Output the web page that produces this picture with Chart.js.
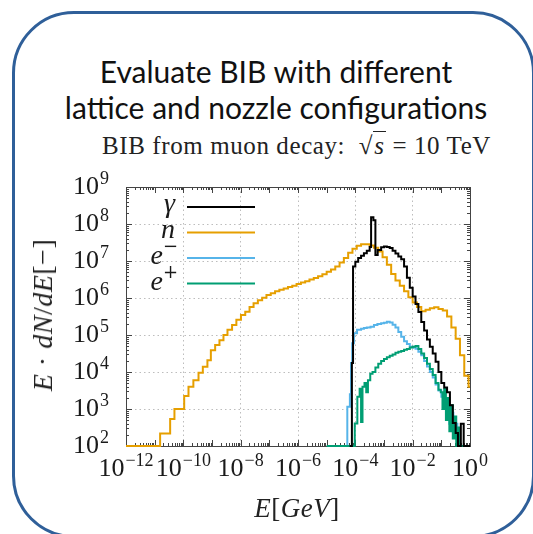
<!DOCTYPE html>
<html>
<head>
<meta charset="utf-8">
<script src="https://cdn.jsdelivr.net/npm/chart.js@4.4.1/dist/chart.umd.min.js"></script>
<style>
  body { margin: 0; width: 533px; height: 534px; overflow: hidden; background: #fff; position: relative; }
  .box { position: absolute; left: 12px; top: 11px; width: 523px; height: 527px; box-sizing: border-box;
         border: 3.5px solid #2f5f99; border-radius: 62px; }
  .title { position: absolute; left: 0; width: 552px; top: 53px; text-align: center;
           font: 30px/36px Lato, "Open Sans", sans-serif; color: #111; }
  .sub { position: absolute; left: 0; width: 593px; top: 133px; text-align: center; letter-spacing: 0.6px;
         font: 25px/25px "Liberation Serif", serif; color: #222; white-space: nowrap; }
  .ov { border-top: 1px solid #222; font-style: italic; padding: 0 1px; }
  canvas { position: absolute; left: 0; top: 0; }
  .ytitle { position: absolute; left: 43px; top: 315px; transform: translate(-50%, -50%) rotate(-90deg);
            font: 28px "Liberation Serif", serif; letter-spacing: 0.5px; color: #222; white-space: nowrap; }
  .xtitle { position: absolute; left: 297px; top: 493px; transform: translateX(-50%);
            font: 27px "Liberation Serif", serif; letter-spacing: 0.5px; color: #222; white-space: nowrap; }
  i { font-style: italic; }
</style>
</head>
<body>
<div class="box"></div>
<div class="title">Evaluate BIB with different<br>lattice and nozzle configurations</div>
<div class="sub">BIB from muon decay: &nbsp;√<span class="ov">s</span> = 10 TeV</div>
<canvas id="chart" width="533" height="534"></canvas>
<div class="ytitle"><i>E</i> · <i>dN</i>/<i>dE</i>[−]</div>
<div class="xtitle"><i>E</i>[<i>GeV</i>]</div>
<script>
// log10 of bin left edges (GeV) and log10 of E dN/dE
const gammaE = [-4.20, -4.12, -4.08, -4.00, -3.90, -3.80, -3.70, -3.60, -3.50, -3.45, -3.37, -3.30, -3.22, -3.10, -3.00, -2.90, -2.80, -2.70, -2.60, -2.50, -2.40, -2.30, -2.20, -2.10, -2.00, -1.90, -1.80, -1.70, -1.60, -1.50, -1.40, -1.30, -1.20, -1.10, -1.00, -0.90, -0.80, -0.70, -0.60, -0.50, -0.42, -0.32, -0.22, 0];
const gammaV = [2, 4.24, 6.85, 6.98, 7.08, 7.14, 7.21, 7.28, 7.38, 8.18, 8.10, 7.16, 7.30, 7.37, 7.39, 7.38, 7.35, 7.28, 7.20, 7.12, 7.05, 6.85, 6.55, 6.28, 6.04, 5.84, 5.62, 5.35, 5.12, 4.88, 4.68, 4.50, 4.28, 4.00, 3.70, 3.58, 3.45, 3.10, 2.62, 2.35, 2, 2.6, 2, 2];

const neutronE = [-12, -10.81, -10.46, -10.31, -9.97, -9.82, -9.65, -9.47, -9.32, -9.16, -9.04, -8.89, -8.74, -8.60, -8.46, -8.30, -8.15, -7.99, -7.84, -7.69, -7.55, -7.40, -7.25, -7.10, -6.95, -6.80, -6.65, -6.50, -6.35, -6.20, -6.05, -5.90, -5.75, -5.60, -5.45, -5.30, -5.15, -5.00, -4.85, -4.70, -4.55, -4.40, -4.25, -4.10, -3.95, -3.80, -3.65, -3.50, -3.35, -3.20, -3.05, -2.90, -2.75, -2.60, -2.45, -2.30, -2.15, -2.00, -1.85, -1.70, -1.55, -1.40, -1.25, -1.10, -0.95, -0.80, -0.65, -0.50, -0.35, -0.20, -0.05, 0];
const neutronV = [2, 2.34, 2.73, 3.0, 3.35, 3.60, 3.78, 3.98, 4.14, 4.32, 4.59, 4.73, 4.86, 5.0, 5.14, 5.27, 5.41, 5.54, 5.63, 5.76, 5.86, 5.94, 6.01, 6.08, 6.13, 6.18, 6.22, 6.26, 6.30, 6.33, 6.38, 6.42, 6.45, 6.50, 6.54, 6.59, 6.64, 6.71, 6.77, 6.85, 6.96, 7.08, 7.22, 7.33, 7.41, 7.45, 7.45, 7.42, 7.36, 7.26, 7.10, 6.90, 6.65, 6.47, 6.33, 6.18, 6.02, 5.88, 5.76, 5.64, 5.68, 5.72, 5.75, 5.70, 5.66, 5.50, 5.20, 4.90, 4.45, 3.90, 3.60, 3.60];

const electronE = [-4.35, -4.28, -4.19, -4.15, -4.11, -4.05, -3.94, -3.80, -3.70, -3.60, -3.47, -3.35, -3.23, -3.10, -3.00, -2.90, -2.80, -2.70, -2.60, -2.50, -2.40, -2.30, -2.20, -2.10, -2.00, -1.90, -1.80, -1.70, -1.60, -1.50, -1.40, -1.30, -1.20, -1.10, -1.00, -0.90, -0.80, -0.72, -0.65, -0.58, -0.50, -0.44, 0];
const electronV = [2, 3.06, 3.40, 4.24, 4.78, 5.05, 5.14, 5.17, 5.19, 5.20, 5.22, 5.27, 5.30, 5.32, 5.33, 5.36, 5.34, 5.28, 5.20, 5.08, 4.95, 4.83, 4.76, 4.68, 4.66, 4.63, 4.55, 4.45, 4.30, 4.15, 4.00, 3.85, 3.66, 3.50, 3.33, 3.10, 2.85, 2.60, 2.90, 2.40, 2.60, 2, 2];

const positronE = [-5.00, -4.02, -3.93, -3.85, -3.80, -3.75, -3.68, -3.62, -3.56, -3.48, -3.40, -3.30, -3.20, -3.10, -3.00, -2.90, -2.80, -2.70, -2.60, -2.50, -2.40, -2.30, -2.20, -2.10, -2.00, -1.90, -1.80, -1.70, -1.60, -1.50, -1.40, -1.30, -1.20, -1.10, -1.02, -0.96, -0.90, -0.84, -0.78, -0.72, -0.66, -0.60, -0.55, -0.48, -0.42, -0.36, 0];
const positronV = [2, 2.61, 3.33, 3.55, 2.65, 3.60, 3.70, 3.45, 3.78, 3.95, 4.00, 4.12, 4.22, 4.30, 4.35, 4.40, 4.44, 4.47, 4.52, 4.55, 4.57, 4.60, 4.62, 4.66, 4.68, 4.70, 4.62, 4.50, 4.38, 4.22, 4.08, 3.92, 3.70, 3.52, 3.45, 3.00, 3.55, 2.70, 3.30, 2.40, 3.10, 2.20, 2.80, 2, 2.50, 2, 2];

const xTickExp = [-12, -10, -8, -6, -4, -2, 0];
const yTickExp = [2, 3, 4, 5, 6, 7, 8, 9];
const legendNames = ['γ', 'n', 'e', 'e'];
const legendSups = ['', '', '−', '+'];

const BASE_FONT = '26px "Liberation Serif", serif';
const SUP_FONT = '18px "Liberation Serif", serif';
const LEGEND_FONT = 'italic 28px "Liberation Serif", serif';

function toPoints(es, vs) {
  return es.map((e, i) => ({ x: Math.pow(10, e), y: Math.pow(10, vs[i]) }));
}

function drawPow(ctx, e, x, base, align) {
  const exp = e < 0 ? '\u2212' + (-e) : String(e);
  ctx.font = BASE_FONT;
  const w1 = ctx.measureText('10').width + 1;
  ctx.font = SUP_FONT;
  const w2 = ctx.measureText(exp).width;
  const left = align === 'center' ? x - (w1 + w2) / 2 : x - w1 - w2;
  ctx.textAlign = 'left';
  ctx.textBaseline = 'alphabetic';
  ctx.font = BASE_FONT;
  ctx.fillText('10', left, base);
  ctx.font = SUP_FONT;
  ctx.fillText(exp, left + w1, base - 10);
}

// frame + log minor ticks, under the curves
const framePlugin = {
  id: 'frame',
  beforeDatasetsDraw(chart) {
    const { ctx, chartArea: a, scales: { x, y } } = chart;
    ctx.save();
    ctx.strokeStyle = '#444';
    ctx.lineWidth = 1;
    ctx.beginPath();
    for (let n = -12; n < 0; n++) {
      for (let k = 1; k <= 9; k++) {
        const px = Math.round(x.getPixelForValue(k * Math.pow(10, n))) + 0.5;
        const len = k === 1 ? 6 : 3;
        ctx.moveTo(px, a.bottom); ctx.lineTo(px, a.bottom - len);
        ctx.moveTo(px, a.top); ctx.lineTo(px, a.top + len);
      }
    }
    for (let n = 2; n < 9; n++) {
      for (let k = 1; k <= 9; k++) {
        const py = Math.round(y.getPixelForValue(k * Math.pow(10, n))) + 0.5;
        const len = k === 1 ? 6 : 3;
        ctx.moveTo(a.left, py); ctx.lineTo(a.left + len, py);
        ctx.moveTo(a.right, py); ctx.lineTo(a.right - len, py);
      }
    }
    ctx.stroke();
    ctx.strokeRect(Math.round(a.left) + 0.5, Math.round(a.top) + 0.5, Math.round(a.width), Math.round(a.height));
    ctx.restore();
  },
  afterDraw(chart) {
    const { ctx, chartArea: a, scales: { x, y } } = chart;
    ctx.save();
    ctx.fillStyle = '#1a1a1a';
    x.ticks.forEach(t => drawPow(ctx, Math.round(Math.log10(t.value)), x.getPixelForValue(t.value), 476, 'center'));
    y.ticks.forEach(t => drawPow(ctx, Math.round(Math.log10(t.value)), a.left - 17, y.getPixelForValue(t.value) + 7, 'right'));

    // key: label on the left, line sample on the right
    chart.data.datasets.forEach((ds, i) => {
      const ly = 207 + i * 25.5;
      ctx.strokeStyle = ds.borderColor;
      ctx.lineWidth = 2.2;
      ctx.beginPath();
      ctx.moveTo(187, ly); ctx.lineTo(255, ly);
      ctx.stroke();
      ctx.fillStyle = '#1a1a1a';
      ctx.textBaseline = 'alphabetic';
      ctx.textAlign = 'right';
      const sup = legendSups[i];
      if (sup) {
        ctx.font = '18px "DejaVu Serif", serif';
        const ws = ctx.measureText(sup).width;
        ctx.fillText(sup, 178, ly - 6);
        ctx.font = LEGEND_FONT;
        ctx.fillText(legendNames[i], 178 - ws, ly + 6);
      } else {
        ctx.font = LEGEND_FONT;
        ctx.fillText(legendNames[i], 175, ly + 5);
      }
    });
    ctx.restore();
  }
};

function gridColor(c, count) {
  return (c.index === 0 || c.index === count - 1) ? 'rgba(0,0,0,0)' : '#bdbdbd';
}

new Chart(document.getElementById('chart'), {
  type: 'line',
  data: {
    datasets: [
      { label: 'γ', data: toPoints(gammaE, gammaV), borderColor: '#000000', order: 0 },
      { label: 'n', data: toPoints(neutronE, neutronV), borderColor: '#e69f00', order: 3 },
      { label: 'e−', data: toPoints(electronE, electronV), borderColor: '#56b4e9', order: 2 },
      { label: 'e+', data: toPoints(positronE, positronV), borderColor: '#009e73', order: 1 }
    ]
  },
  options: {
    responsive: false,
    animation: false,
    devicePixelRatio: 1,
    layout: { padding: { left: 126, right: 63, top: 187, bottom: 88 } },
    datasets: { line: { stepped: 'before', pointRadius: 0, borderWidth: 2, tension: 0, fill: false, clip: 3 } },
    plugins: { legend: { display: false }, tooltip: { enabled: false } },
    scales: {
      x: {
        type: 'logarithmic', min: 1e-12, max: 1,
        afterBuildTicks: s => { s.ticks = xTickExp.map(e => ({ value: Math.pow(10, e) })); },
        afterFit: s => { s.height = 0; },
        ticks: { display: false },
        grid: { drawTicks: false, color: c => gridColor(c, xTickExp.length), lineWidth: 1 },
        border: { display: false, dash: [1.5, 3] }
      },
      y: {
        type: 'logarithmic', min: 1e2, max: 1e9,
        afterBuildTicks: s => { s.ticks = yTickExp.map(e => ({ value: Math.pow(10, e) })); },
        afterFit: s => { s.width = 0; },
        ticks: { display: false },
        grid: { drawTicks: false, color: c => gridColor(c, yTickExp.length), lineWidth: 1 },
        border: { display: false, dash: [1.5, 3] }
      }
    }
  },
  plugins: [framePlugin]
});
</script>
</body>
</html>
